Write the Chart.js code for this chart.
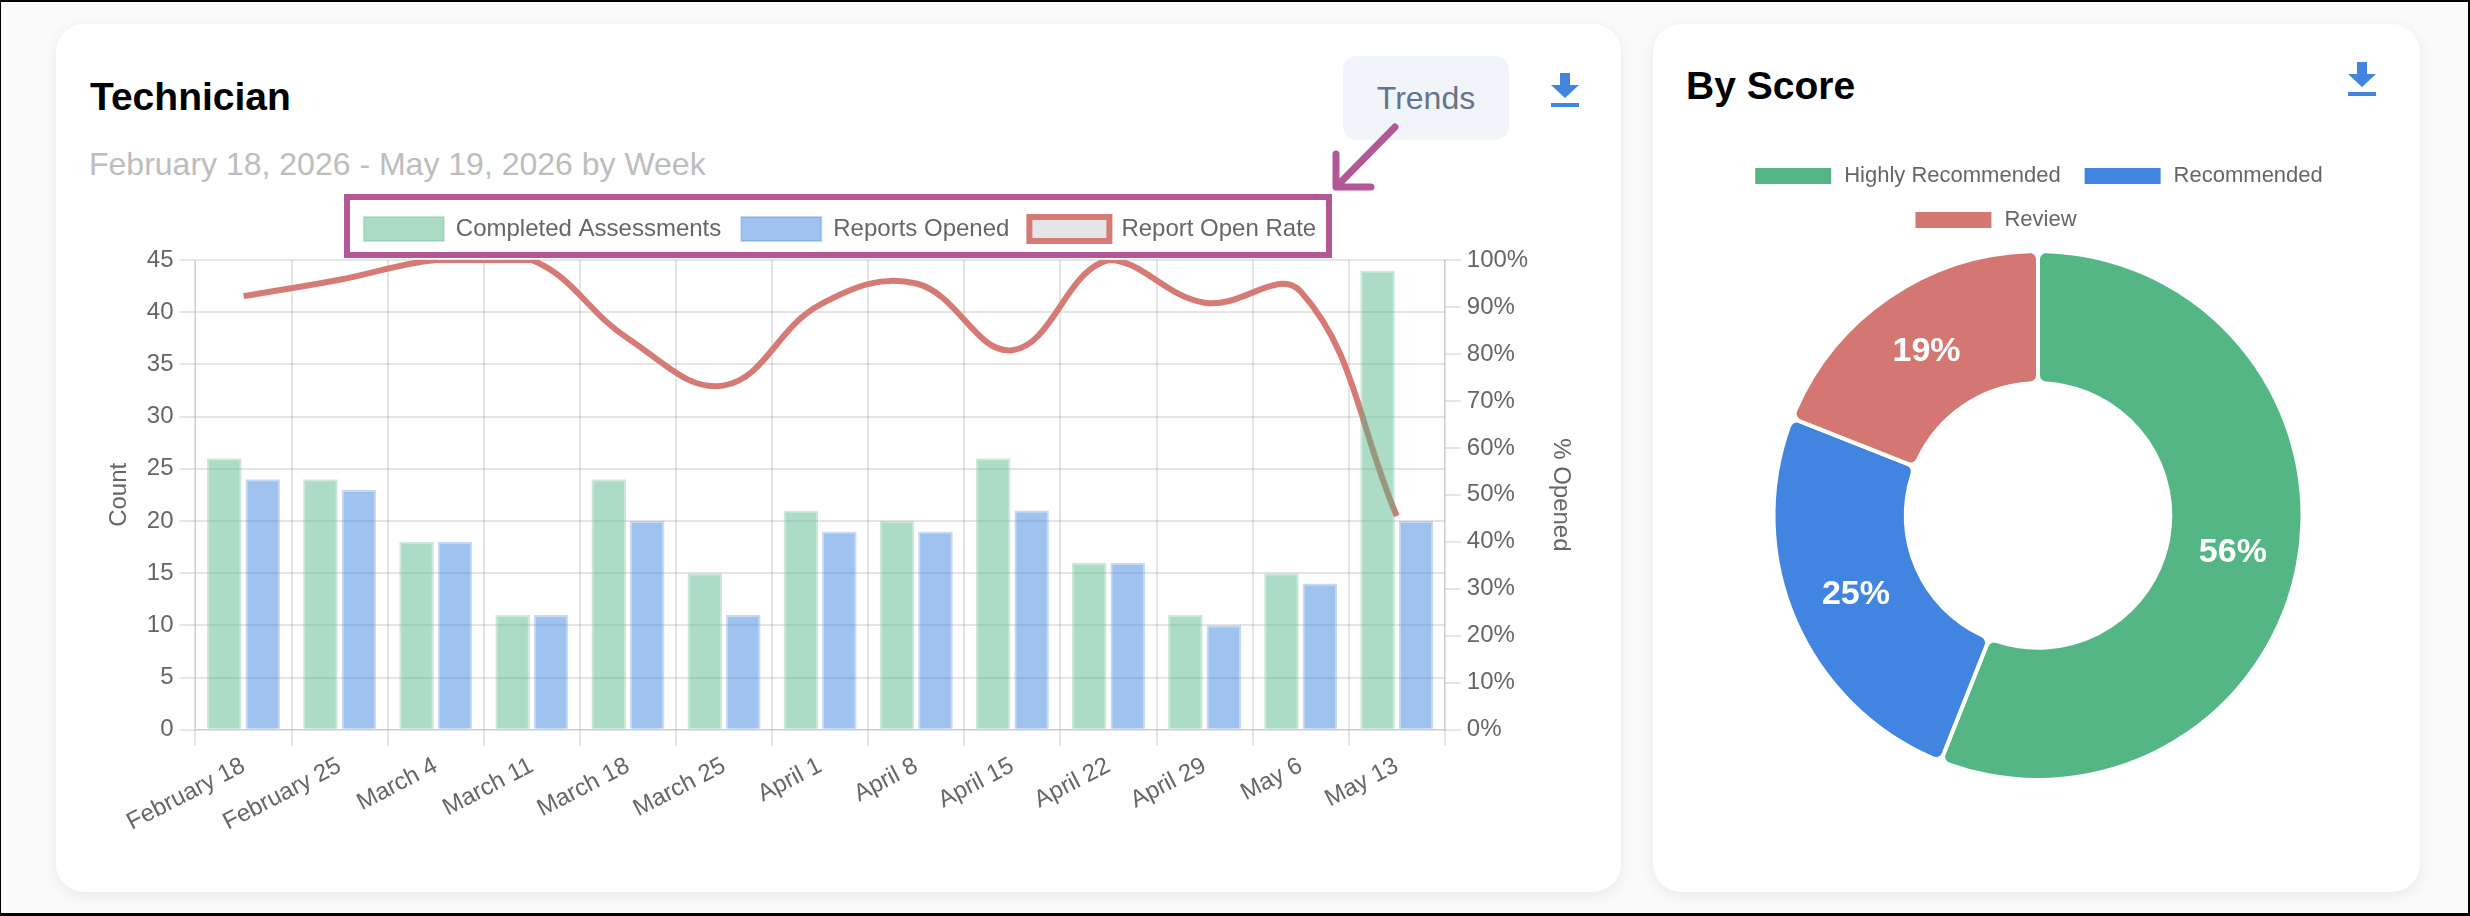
<!DOCTYPE html>
<html lang="en">

<head>
    <meta charset="UTF-8">
    <title>Technician</title>
    <script src="https://cdn.jsdelivr.net/npm/chart.js"></script>
    <style>
        html, body {
            margin: 0;
            padding: 0;
            background: #fafafa;
            font-family: "Liberation Sans", sans-serif;
        }

        #frame {
            position: relative;
            box-sizing: border-box;
            width: 2470px;
            height: 916px;
            border: solid #000;
            border-width: 2px 2px 3px 1px;
            overflow: hidden;
        }

        .card, .title, .subtitle, #trends, .icon, #chart_wrap, #score_wrap, #overlay {
            position: absolute;
        }

        .card {
            top: 22px;
            height: 868px;
            background: #fff;
            border-radius: 28px;
            box-shadow: 0 4px 14px rgba(0, 0, 0, 0.07);
        }

        .title {
            font-size: 39px;
            font-weight: bold;
            color: #000;
            line-height: 44px;
        }

        .subtitle {
            left: 88px;
            top: 144px;
            font-size: 32px;
            line-height: 36px;
            color: #bdbdbd;
        }

        #trends {
            left: 1342px;
            top: 54px;
            width: 166px;
            height: 84px;
            line-height: 84px;
            text-align: center;
            border-radius: 14px;
            background: #f1f5fa;
            color: #64748b;
            font-size: 32px;
        }

        .icon { width: 28px; height: 34px; }

        #chart_wrap {
            left: 100px;
            top: 195px;
            width: 1478px;
            height: 646px;
        }

        #score_wrap {
            left: 1661px;
            top: 141px;
            width: 752px;
            height: 639px;
        }

        #overlay { left: 0; top: 0; pointer-events: none; }
    </style>
</head>

<body>
    <div id="frame">
        <div class="card" style="left:55px;width:1565px"></div>
        <div class="card" style="left:1652px;width:767px"></div>

        <div class="title" style="left:89px;top:73px">Technician</div>
        <div class="subtitle">February 18, 2026 - May 19, 2026 by Week</div>
        <div id="trends">Trends</div>
        <svg class="icon" style="left:1550px;top:71px" viewBox="0 0 28 34" fill="#4185e0">
            <polygon points="9,0 19,0 19,12 28,12 14,25 0,12 9,12" />
            <rect x="0" y="30" width="28" height="4" />
        </svg>

        <div id="chart_wrap"><canvas id="trend_canvas"></canvas></div>

        <div class="title" style="left:1685px;top:62px">By Score</div>
        <svg class="icon" style="left:2347px;top:60px" viewBox="0 0 28 34" fill="#4185e0">
            <polygon points="9,0 19,0 19,12 28,12 14,25 0,12 9,12" />
            <rect x="0" y="30" width="28" height="4" />
        </svg>

        <div id="score_wrap"><canvas id="score_canvas"></canvas></div>

        <!-- purple callout around the legend -->
        <svg id="overlay" width="2470" height="916">
            <rect x="346" y="195" width="982" height="58" fill="none" stroke="#b45796" stroke-width="6" />
            <path d="M1394 125 L1335 185 M1335 152 L1335 185 L1370 185" fill="none" stroke="#b45796"
                stroke-width="7" stroke-linecap="round" stroke-linejoin="round" />
        </svg>
    </div>

    <script>
        const weeks = ['February 18', 'February 25', 'March 4', 'March 11', 'March 18', 'March 25', 'April 1',
            'April 8', 'April 15', 'April 22', 'April 29', 'May 6', 'May 13'];
        const completed = [26, 24, 18, 11, 24, 15, 21, 20, 26, 16, 11, 15, 44];
        const opened = [24, 23, 18, 11, 20, 11, 19, 19, 21, 16, 10, 14, 20];
        const open_rate = [92.3, 95.8, 100, 100, 83.3, 73.3, 90.5, 95, 80.8, 100, 90.9, 93.3, 45.5];

        const score_labels = ['Highly Recommended', 'Recommended', 'Review'];
        const score_values = [56, 25, 19];
        const score_colors = ['#54b685', '#4185e0', '#d47773'];

        Chart.defaults.font.family = '"Liberation Sans", sans-serif';
        Chart.defaults.color = '#666';

        // leaves some extra room under the legend
        function legend_gap(extra) {
            return {
                id: 'legend_gap',
                beforeInit(chart) {
                    const fit = chart.legend.fit;
                    chart.legend.fit = function () {
                        fit.call(this);
                        this.height += extra;
                    };
                }
            };
        }

        new Chart(document.getElementById('trend_canvas'), {
            type: 'bar',
            data: {
                labels: weeks,
                datasets: [{
                    label: 'Completed Assessments',
                    data: completed,
                    yAxisID: 'y',
                    backgroundColor: 'rgba(84, 182, 133, 0.48)',
                    borderColor: 'rgba(84, 182, 133, 0.3)',
                    borderWidth: 2
                }, {
                    label: 'Reports Opened',
                    data: opened,
                    yAxisID: 'y',
                    backgroundColor: 'rgba(65, 133, 224, 0.5)',
                    borderColor: 'rgba(65, 133, 224, 0.3)',
                    borderWidth: 2
                }, {
                    type: 'line',
                    label: 'Report Open Rate',
                    data: open_rate,
                    yAxisID: 'y1',
                    backgroundColor: 'rgba(0, 0, 0, 0.1)',
                    borderColor: '#d67a75',
                    borderWidth: 6,
                    tension: 0.4,
                    pointRadius: 0,
                    clip: 0
                }]
            },
            options: {
                responsive: true,
                maintainAspectRatio: false,
                animation: false,
                plugins: {
                    legend: {
                        labels: { font: { size: 24 }, boxWidth: 80, boxHeight: 24, padding: 20 }
                    },
                    tooltip: { enabled: false }
                },
                scales: {
                    x: {
                        grid: { lineWidth: 2, tickLength: 16 },
                        ticks: { font: { size: 24 }, minRotation: 27.5, maxRotation: 27.5, padding: 6 }
                    },
                    y: {
                        min: 0,
                        max: 45,
                        grid: { lineWidth: 2, tickLength: 16 },
                        ticks: { font: { size: 24 }, stepSize: 5, padding: 6 },
                        title: { display: true, text: 'Count', font: { size: 24 }, padding: { top: 4, bottom: 7 } }
                    },
                    y1: {
                        position: 'right',
                        min: 0,
                        max: 100,
                        grid: { lineWidth: 2, tickLength: 16, drawOnChartArea: false },
                        ticks: { font: { size: 24 }, stepSize: 10, padding: 6, callback: v => v + '%' },
                        title: { display: true, text: '% Opened', font: { size: 24 }, padding: { top: 4, bottom: 12 } }
                    }
                }
            },
            plugins: [legend_gap(9)]
        });

        // white percentage on every slice of the doughnut
        const slice_labels = {
            id: 'slice_labels',
            afterDatasetsDraw(chart) {
                const ctx = chart.ctx;
                ctx.save();
                ctx.font = 'bold 34px "Liberation Sans", sans-serif';
                ctx.fillStyle = '#fff';
                ctx.textAlign = 'center';
                ctx.textBaseline = 'middle';
                chart.getDatasetMeta(0).data.forEach((arc, i) => {
                    const pos = arc.tooltipPosition();
                    ctx.fillText(score_values[i] + '%', pos.x, pos.y);
                });
                ctx.restore();
            }
        };

        // the second legend row sits left of centre in the original
        const shift_second_row = {
            id: 'shift_second_row',
            beforeDraw(chart) {
                chart.legend.lineWidths[1] += 86;
            }
        };

        new Chart(document.getElementById('score_canvas'), {
            type: 'doughnut',
            data: {
                labels: score_labels,
                datasets: [{
                    data: score_values,
                    backgroundColor: score_colors,
                    borderColor: '#fff',
                    borderWidth: 4,
                    borderRadius: 8
                }]
            },
            options: {
                responsive: true,
                maintainAspectRatio: false,
                animation: false,
                cutout: '50%',
                plugins: {
                    legend: {
                        labels: { font: { size: 22 }, boxWidth: 80, boxHeight: 20, padding: 22 }
                    },
                    tooltip: { enabled: false }
                }
            },
            plugins: [slice_labels, legend_gap(8), shift_second_row]
        });
    </script>
</body>

</html>
